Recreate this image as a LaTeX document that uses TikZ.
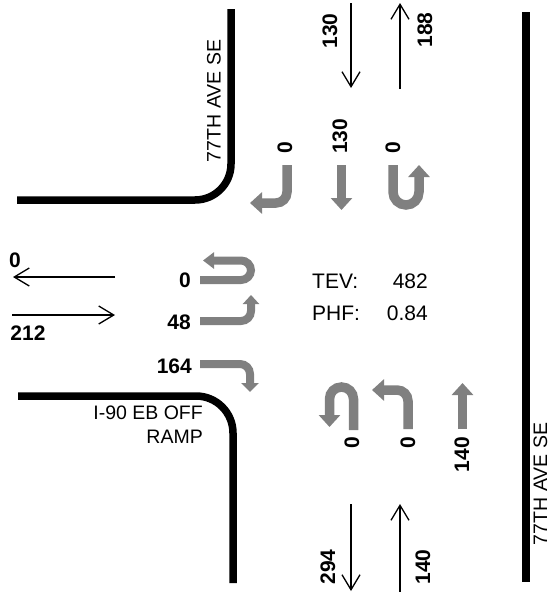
\documentclass[tikz,border=0pt]{standalone}
\usepackage{fontspec}
\setmainfont{Liberation Sans}
\usetikzlibrary{arrows.meta}

\tikzset{
  curb/.style={line width=7.5pt, line cap=butt},
  flow/.style={line width=1.3pt, -{Straight Barb[length=15pt, width=18pt, line width=1.3pt]}},
  turn/.style={draw=gray, line width=9.5pt, rounded corners=11pt,
               -{Triangle[length=12pt, width=21pt]}},
  vol/.style={font=\fontsize{21}{24}\selectfont\bfseries, inner sep=0pt},
  street/.style={font=\fontsize{19.5}{24}\selectfont, inner sep=0pt},
  info/.style={font=\fontsize{21}{24}\selectfont, inner sep=0pt}
}

\begin{document}
\begin{tikzpicture}[x=1pt, y=-1pt]
\useasboundingbox (0,0) rectangle (550,592);

% curbs
\draw[curb, rounded corners=36pt] (17,200) -- (231,200) -- (231,9);
\draw[curb, rounded corners=37pt] (18,396) -- (233,396) -- (233,583);
\draw[curb] (526,12) -- (526,582);

% street names
\node[street, rotate=90] (aveN) at (214,101) {77TH AVE SE};
\node[street, rotate=90] (aveS) at (540.5,484) {77TH AVE SE};
\node[street, align=right, anchor=east] (ramp) at (203,425) {I-90 EB OFF\\RAMP};

% approach and departure volumes
\draw[flow] (351,3) -- (351,88);
\draw[flow] (400,89) -- (400,3);
\draw[flow] (351,504) -- (351,591);
\draw[flow] (400,592) -- (400,504);
\draw[flow] (115,277) -- (13,277);
\draw[flow] (12,315) -- (115,315);
\node[vol, rotate=90] (sbIn) at (330,31) {130};
\node[vol, rotate=90] (nbOut) at (425,30) {188};
\node[vol, rotate=90] (sbOut) at (328,567) {294};
\node[vol, rotate=90] (nbIn) at (423,567) {140};
\node[vol] (wbOut) at (15,260) {0};
\node[vol] (ebIn) at (28,333) {212};

% southbound movements
\draw[turn] (287,165) -- (287,203) -- (250,203);
\draw[turn] (341.5,165) -- (341.5,210);
\draw[turn, rounded corners=13pt] (393,165) -- (393,205) -- (419,205) -- (419,165);
\node[vol, rotate=90, anchor=west] (sbL) at (285,154) {0};
\node[vol, rotate=90, anchor=west] (sbT) at (340,154) {130};
\node[vol, rotate=90, anchor=west] (sbU) at (393,154) {0};

% eastbound movements
\draw[turn, line width=8pt, rounded corners=10pt, -{Triangle[length=11pt, width=16pt]}]
  (200,280) -- (251,280) -- (251,260.5) -- (203,260.5);
\draw[turn, line width=8pt, rounded corners=10pt, -{Triangle[length=9pt, width=16pt]}]
  (200,321) -- (251,321) -- (251,295);
\draw[turn, line width=8pt, rounded corners=10pt, -{Triangle[length=9pt, width=17pt]}]
  (200,364) -- (250,364) -- (250,392);
\node[vol, anchor=east] (ebU) at (191,280) {0};
\node[vol, anchor=east] (ebL) at (191,322) {48};
\node[vol, anchor=east] (ebR) at (192,366) {164};

% northbound movements
\draw[turn, rounded corners=12pt] (353.5,430) -- (353.5,387) -- (329.5,387) -- (329.5,427);
\draw[turn] (408,429) -- (408,390) -- (372,390);
\draw[turn] (462.5,429) -- (462.5,383);
\node[vol, rotate=90, anchor=east] (nbU) at (352,437) {0};
\node[vol, rotate=90, anchor=east] (nbL) at (408,437) {0};
\node[vol, rotate=90, anchor=east] (nbT) at (462,437) {140};

% totals
\node[info, anchor=west] (tev) at (312,281) {TEV:};
\node[info, anchor=east] (tevV) at (428,281) {482};
\node[info, anchor=west] (phf) at (312,313) {PHF:};
\node[info, anchor=east] (phfV) at (428,313) {0.84};
\end{tikzpicture}
\end{document}
